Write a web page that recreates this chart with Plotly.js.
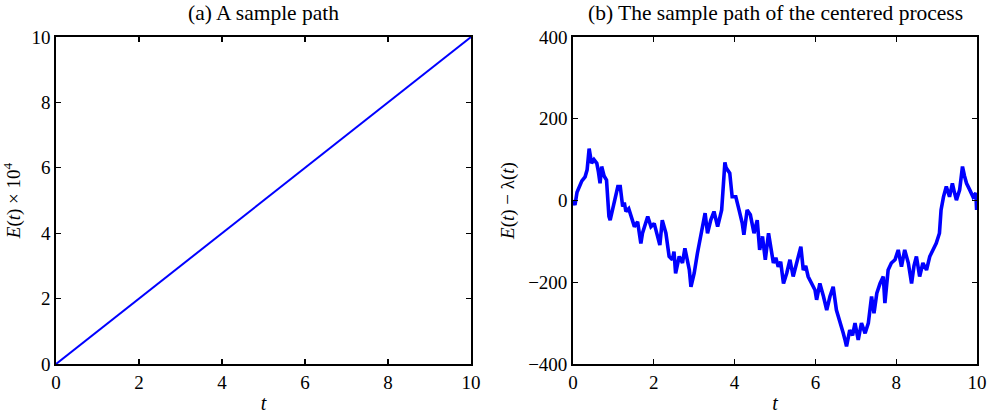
<!DOCTYPE html>
<html><head><meta charset="utf-8">
<script src="https://cdn.plot.ly/plotly-3.0.1.min.js"></script>
<style>body{margin:0;padding:0;background:#fff}#chart{width:992px;height:414px}</style>
</head><body><div id="chart"></div>
<script>
// (a) sample path E(t) x 10^4
const tA = [0, 10];
const eA = [0, 10];
// (b) centered process E(t) - lambda(t)
const tB = [0,0.05,0.1,0.17,0.22,0.3,0.35,0.4,0.43,0.46,0.52,0.59,0.63,0.67,0.71,0.77,0.83,0.89,0.92,0.97,1.03,1.11,1.17,1.23,1.27,1.31,1.38,1.44,1.52,1.6,1.68,1.72,1.77,1.85,1.93,2.01,2.06,2.1,2.15,2.21,2.3,2.38,2.46,2.5,2.54,2.63,2.71,2.77,2.83,2.88,2.92,3.0,3.08,3.14,3.19,3.27,3.33,3.41,3.49,3.58,3.68,3.71,3.76,3.79,3.82,3.88,3.94,4.03,4.11,4.19,4.23,4.31,4.39,4.44,4.48,4.56,4.62,4.69,4.76,4.84,4.9,4.96,5.02,5.08,5.14,5.21,5.29,5.37,5.45,5.53,5.58,5.64,5.7,5.76,5.82,5.9,5.99,6.03,6.11,6.2,6.28,6.36,6.44,6.52,6.6,6.69,6.73,6.77,6.85,6.92,6.98,7.06,7.14,7.23,7.31,7.35,7.39,7.45,7.52,7.6,7.68,7.72,7.8,7.88,7.97,8.05,8.13,8.21,8.3,8.38,8.44,8.5,8.58,8.66,8.75,8.83,8.91,8.99,9.07,9.11,9.17,9.24,9.32,9.39,9.44,9.49,9.57,9.64,9.69,9.74,9.82,9.9,9.97,9.99,10];
const eB = [1,-11,20,34,48,58,75,127,105,91,100,91,70,42,83,60,50,-39,-48,-25,-6,34,34,-15,-5,-27,-20,-39,-64,-52,-105,-80,-64,-39,-64,-56,-75,-92,-109,-48,-80,-137,-145,-125,-178,-137,-153,-117,-153,-170,-211,-178,-129,-100,-72,-31,-80,-48,-27,-64,-23,34,93,80,75,67,9,9,-23,-56,-84,-23,-35,-60,-80,-48,-121,-88,-145,-80,-120,-153,-140,-162,-150,-203,-178,-145,-186,-153,-130,-113,-170,-160,-186,-203,-219,-243,-203,-235,-268,-235,-211,-268,-292,-325,-340,-357,-317,-330,-300,-341,-300,-325,-300,-260,-235,-276,-227,-203,-186,-251,-170,-153,-145,-121,-162,-121,-153,-203,-160,-137,-186,-153,-170,-137,-121,-105,-80,-23,9,34,9,42,20,1,26,83,60,42,26,9,18,-23,-10];
const ticksA = [0,2,4,6,8,10];
const ticksYB = [-400,-200,0,200,400];

const fam = '"Liberation Serif", "Times New Roman", serif';
function f(s){ return {family:fam, size:s, color:'#000'}; }
function ax(extra){
  return Object.assign({showgrid:false, zeroline:false, showline:true, linecolor:'#000', linewidth:1.8,
    mirror:'ticks', ticks:'inside', ticklen:5, tickcolor:'#000', tickwidth:1.2, tickfont:f(19)}, extra);
}

const traces = [
  {x:tA, y:eA, type:'scatter', mode:'lines', line:{color:'#0000ff', width:2}, xaxis:'x', yaxis:'y', showlegend:false, hoverinfo:'skip'},
  {x:tB, y:eB, type:'scatter', mode:'lines', line:{color:'#0000ff', width:3.6}, xaxis:'x2', yaxis:'y2', showlegend:false, hoverinfo:'skip'}
];
const layout = {
  width:992, height:414, margin:{l:0,r:0,t:0,b:0}, paper_bgcolor:'#fff', plot_bgcolor:'#fff', font:f(19),
  xaxis:ax({domain:[0.0565,0.4748], range:[0,10], tickvals:ticksA, anchor:'y',
    title:{text:'<i>t</i>', font:f(20), standoff:5}}),
  yaxis:ax({domain:[0.1208,0.9106], range:[0,10], tickvals:ticksA, anchor:'x',
    title:{text:'<i>E</i>(<i>t</i>) × 10<sup>4</sup>', font:f(19), standoff:8}}),
  xaxis2:ax({domain:[0.5776,0.9849], range:[0,10], tickvals:ticksA, anchor:'y2',
    title:{text:'<i>t</i>', font:f(20), standoff:5}}),
  yaxis2:ax({domain:[0.1208,0.9106], range:[-400,400], tickvals:ticksYB, anchor:'x2',
    title:{text:'<i>E</i>(<i>t</i>) − λ(<i>t</i>)', font:f(19), standoff:8}}),
  annotations:[
    {text:'(a) A sample path', xref:'paper', yref:'paper', x:0.2657, xanchor:'center', y:1-12.5/414, yanchor:'middle', showarrow:false, font:f(21.5)},
    {text:'(b) The sample path of the centered process', xref:'paper', yref:'paper', x:0.7813, xanchor:'center', y:1-12.5/414, yanchor:'middle', showarrow:false, font:f(21.5)}
  ]
};
Plotly.newPlot('chart', traces, layout, {staticPlot:true, displayModeBar:false});
</script></body></html>
